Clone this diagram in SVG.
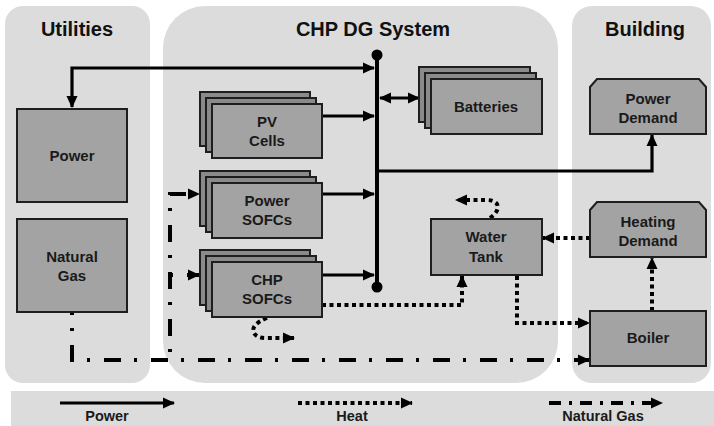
<svg xmlns="http://www.w3.org/2000/svg" width="714" height="426" viewBox="0 0 714 426">
<style>
.panel{fill:#dcdcdc}
.title{font-family:"Liberation Sans",Arial,sans-serif;font-weight:bold;font-size:20px;fill:#111;text-anchor:middle}
.lbl{font-family:"Liberation Sans",Arial,sans-serif;font-weight:bold;font-size:15px;fill:#1a1a1a;text-anchor:middle}
.leg{font-family:"Liberation Sans",Arial,sans-serif;font-weight:bold;font-size:14.5px;fill:#1a1a1a;text-anchor:middle}
.box{fill:#a3a3a3;stroke:#1e1e1e;stroke-width:2}
.back{fill:#8a8a8a;stroke:#1e1e1e;stroke-width:2}
.pw{fill:none;stroke:#000;stroke-width:3.2}
.ht{fill:none;stroke:#000;stroke-width:4;stroke-dasharray:4 3.5}
.ng{fill:none;stroke:#000;stroke-width:4;stroke-dasharray:17 13 3 14}
</style>
<defs>
<marker id="ah" markerUnits="userSpaceOnUse" markerWidth="12" markerHeight="12" viewBox="0 0 12 12" refX="11" refY="6" orient="auto-start-reverse">
<path d="M0,0.5 L12,6 L0,11.5 Z" fill="#000"/>
</marker>
</defs>
<rect width="714" height="426" fill="#fff"/>
<!-- panels -->
<rect class="panel" x="5" y="6" width="145" height="377" rx="18"/>
<rect class="panel" x="163" y="6" width="395" height="377" rx="42"/>
<rect class="panel" x="572" y="6" width="139" height="377" rx="20"/>
<rect class="panel" x="11" y="391" width="703" height="35"/>
<text class="title" x="77" y="36">Utilities</text>
<text class="title" x="373" y="36">CHP DG System</text>
<text class="title" x="645" y="36">Building</text>
<!-- connectors -->
<g id="connectors">
<path class="pw" d="M72,107 L72,68 L374,68" marker-start="url(#ah)" marker-end="url(#ah)"/>
<line x1="377" y1="55" x2="377" y2="287" stroke="#000" stroke-width="4"/>
<circle cx="377" cy="55" r="5.5" fill="#000"/>
<circle cx="377" cy="287" r="5.5" fill="#000"/>
<path class="pw" d="M322,116 L374,116" marker-end="url(#ah)"/>
<path class="pw" d="M322,194 L374,194" marker-end="url(#ah)"/>
<path class="pw" d="M322,275 L374,275" marker-end="url(#ah)"/>
<path class="pw" d="M380,98 L419,98" marker-start="url(#ah)" marker-end="url(#ah)"/>
<path class="pw" d="M377,171 L652,171 L652,135" marker-end="url(#ah)"/>
<path class="ht" d="M322,305 L462,305 L462,276" marker-end="url(#ah)"/>
<path class="ht" d="M517,276 L517,323 L589,323" marker-end="url(#ah)"/>
<path class="ht" d="M590,238 L543,238" marker-end="url(#ah)"/>
<path class="ht" d="M652,311 L652,258" marker-end="url(#ah)"/>
<path class="ht" d="M490,218 Q500,211 497,204 Q494,200 486,200 L456,200" marker-end="url(#ah)"/>
<path class="ht" d="M267,318 Q250,325 254,333 Q257,338 266,338 L294,338" marker-end="url(#ah)"/>
<path class="ng" d="M72,312 L72,360 L589,360" stroke-dashoffset="14" marker-end="url(#ah)"/>
<path class="ng" d="M199,194 L170,194 L170,360" stroke-dashoffset="34" marker-start="url(#ah)"/>
<path class="ng" d="M170,275 L199,275" stroke-dashoffset="30" marker-end="url(#ah)"/>
</g>
<!-- nodes -->
<g id="utility-power">
<rect class="box" x="17" y="109" width="110" height="93"/>
<text class="lbl" x="72" y="161">Power</text>
</g>
<g id="utility-gas">
<rect class="box" x="17" y="219" width="110" height="93"/>
<text class="lbl" x="72" y="262">Natural</text>
<text class="lbl" x="72" y="281">Gas</text>
</g>
<g id="pv-cells">
<rect class="back" x="200" y="92" width="110" height="54"/>
<rect class="back" x="206" y="98" width="110" height="54"/>
<rect class="box" x="212" y="104" width="110" height="54"/>
<text class="lbl" x="267" y="127">PV</text>
<text class="lbl" x="267" y="146">Cells</text>
</g>
<g id="power-sofcs">
<rect class="back" x="200" y="171" width="110" height="55"/>
<rect class="back" x="206" y="177" width="110" height="55"/>
<rect class="box" x="212" y="183" width="110" height="55"/>
<text class="lbl" x="267" y="206">Power</text>
<text class="lbl" x="267" y="225">SOFCs</text>
</g>
<g id="chp-sofcs">
<rect class="back" x="200" y="250" width="110" height="55"/>
<rect class="back" x="206" y="256" width="110" height="55"/>
<rect class="box" x="212" y="262" width="110" height="55"/>
<text class="lbl" x="267" y="285">CHP</text>
<text class="lbl" x="267" y="304">SOFCs</text>
</g>
<g id="batteries">
<rect class="back" x="419" y="67" width="111" height="55"/>
<rect class="back" x="425" y="73" width="111" height="55"/>
<rect class="box" x="431" y="79" width="111" height="55"/>
<text class="lbl" x="486" y="112">Batteries</text>
</g>
<g id="water-tank">
<rect class="box" x="431" y="219" width="111" height="56"/>
<text class="lbl" x="486" y="242">Water</text>
<text class="lbl" x="486" y="262">Tank</text>
</g>
<g id="power-demand">
<path class="box" d="M597,79 L699,79 L706,87 L706,134 L590,134 L590,87 Z"/>
<text class="lbl" x="648" y="104">Power</text>
<text class="lbl" x="648" y="123">Demand</text>
</g>
<g id="heating-demand">
<path class="box" d="M597,202 L699,202 L706,210 L706,257 L590,257 L590,210 Z"/>
<text class="lbl" x="648" y="227">Heating</text>
<text class="lbl" x="648" y="246">Demand</text>
</g>
<g id="boiler">
<rect class="box" x="590" y="311" width="116" height="55"/>
<text class="lbl" x="648" y="343">Boiler</text>
</g>
<!-- legend -->
<g id="legend">
<path class="pw" d="M60,403 L174,403" marker-end="url(#ah)"/>
<path class="ht" d="M298,403 L412,403" marker-end="url(#ah)"/>
<path d="M549,403 L662,403" fill="none" stroke="#000" stroke-width="4" stroke-dasharray="12 8 3 8" marker-end="url(#ah)"/>
<text class="leg" x="107" y="421">Power</text>
<text class="leg" x="352" y="421">Heat</text>
<text class="leg" x="603" y="421">Natural Gas</text>
</g>
</svg>
